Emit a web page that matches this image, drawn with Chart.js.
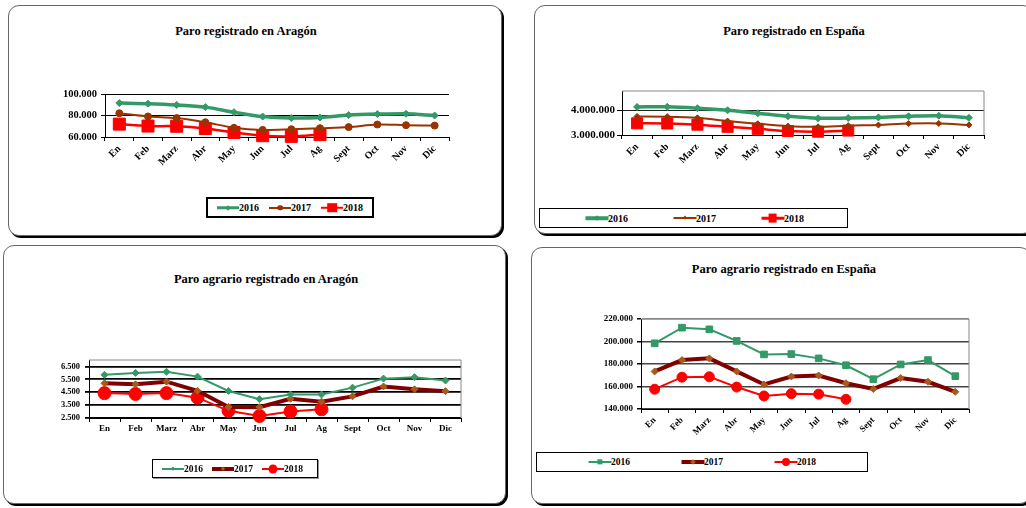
<!DOCTYPE html>
<html>
<head>
<meta charset="utf-8">
<script src="https://cdn.jsdelivr.net/npm/chart.js@4.4.0/dist/chart.umd.min.js"></script>
<style>
  body { margin: 0; width: 1026px; height: 508px; position: relative; overflow: hidden; background: #fff;
         font-family: 'Liberation Serif', 'Times New Roman', serif; }
  .frame { position: absolute; box-sizing: border-box; border: 1px solid #666; border-radius: 11px;
           box-shadow: 2px 2px 0 #000; background: #fff; }
  .title { position: absolute; width: 340px; text-align: center; font-weight: bold; font-size: 12.5px;
           line-height: 14px; color: #000; white-space: nowrap; }
  canvas { position: absolute; }
  .legend { position: absolute; box-sizing: border-box; border: 1px solid #000; background: #fff;
            display: flex; align-items: center; font-weight: bold; color: #000; }
  .item { display: flex; align-items: center; }
  .sw { position: relative; height: 14px; display: inline-block; }
  .sw span { position: absolute; left: 50%; top: 50%; display: block; }
</style>
</head>
<body>

<div class="frame" style="left:8px;top:5px;width:494px;height:231px"></div>
<div class="frame" style="left:534px;top:5px;width:500px;height:229px"></div>
<div class="frame" style="left:3px;top:245px;width:503px;height:259px"></div>
<div class="frame" style="left:531px;top:247px;width:500px;height:257px"></div>

<div class="title" id="t1">Paro registrado en Aragón</div>
<div class="title" id="t2">Paro registrado en España</div>
<div class="title" id="t3">Paro agrario registrado en Aragón</div>
<div class="title" id="t4">Paro agrario registrado en España</div>

<canvas id="c1"></canvas>
<canvas id="c2"></canvas>
<canvas id="c3"></canvas>
<canvas id="c4"></canvas>

<div class="legend" id="l1"></div>
<div class="legend" id="l2"></div>
<div class="legend" id="l3"></div>
<div class="legend" id="l4"></div>

<script>
const months = ['En', 'Feb', 'Marz', 'Abr', 'May', 'Jun', 'Jul', 'Ag', 'Sept', 'Oct', 'Nov', 'Dic'];
const years = ['2016', '2017', '2018'];

// Paro registrado en Aragón
const aragon2016 = [91600, 91000, 89800, 87800, 83100, 79000, 77700, 78100, 80400, 81300, 81600, 80000];
const aragon2017 = [82100, 79100, 77600, 73700, 68600, 66600, 67200, 68200, 69200, 71600, 71000, 70600];
const aragon2018 = [72000, 70200, 70000, 67900, 64200, 61200, 60600, 62300];
const aragonTicks = [60000, 80000, 100000];

// Paro registrado en España
const espana2016 = [4150000, 4153000, 4095000, 4011000, 3891000, 3767000, 3683000, 3697000, 3720000, 3765000, 3790000, 3703000];
const espana2017 = [3760000, 3751000, 3702000, 3573000, 3461000, 3363000, 3336000, 3382000, 3410000, 3467000, 3474000, 3413000];
const espana2018 = [3477000, 3470000, 3423000, 3336000, 3252000, 3162000, 3135000, 3182000];
const espanaTicks = [3000000, 4000000];

// Paro agrario registrado en Aragón
const agrAragon2016 = [5850, 6000, 6085, 5710, 4600, 3960, 4325, 4325, 4855, 5555, 5670, 5410];
const agrAragon2017 = [5190, 5115, 5320, 4610, 3355, 3340, 3990, 3770, 4180, 4945, 4725, 4585];
const agrAragon2018 = [4430, 4365, 4430, 4080, 3055, 2655, 3005, 3175];
const agrAragonTicks = [2500, 3500, 4500, 5500, 6500];

// Paro agrario registrado en España
const agrEspana2016 = [198400, 212300, 210800, 200500, 188500, 188800, 185000, 178900, 166500, 179600, 183500, 169200];
const agrEspana2017 = [173400, 183500, 185000, 173400, 161800, 168900, 169800, 162900, 157800, 167500, 164200, 155300];
const agrEspana2018 = [157600, 168300, 168600, 159500, 151600, 153600, 153200, 148600];
const agrEspanaTicks = [140000, 160000, 180000, 200000, 220000];

const GREEN = '#339966';
const BROWN = '#993300';
const MAROON = '#800000';
const RED = '#ff0000';
const RUST = '#a85a1c';
const FONT = "'Liberation Serif', 'Times New Roman', serif";

function fmt(v) {
    return String(v).replace(/\B(?=(\d{3})+(?!\d))/g, '.');
}

// gray frame round the plot area (top and right sides)
const chartAreaBorder = {
    id: 'chartAreaBorder',
    beforeDatasetsDraw(chart, args, opts) {
        if (!opts.color) return;
        const {ctx, chartArea: {left, top, right, bottom}} = chart;
        ctx.save();
        ctx.strokeStyle = opts.color;
        ctx.lineWidth = 1;
        ctx.beginPath();
        ctx.moveTo(left, top);
        ctx.lineTo(right, top);
        ctx.lineTo(right, bottom);
        ctx.stroke();
        ctx.restore();
    }
};

function makeChart(id, s) {
    const cv = document.getElementById(id);
    const padT = 12, padR = 14, xH = 50;
    const left = s.area.l - s.yW, top = s.area.t - padT;
    cv.width = s.area.r - left + padR;
    cv.height = s.area.b - top + xH;
    cv.style.left = left + 'px';
    cv.style.top = top + 'px';

    return new Chart(cv, {
        type: 'line',
        data: {
            labels: months,
            datasets: s.series.map(d => ({
                label: d.label,
                data: d.data,
                borderColor: d.color,
                backgroundColor: d.color,
                borderWidth: d.width,
                pointStyle: d.point,
                pointRadius: d.radius,
                pointHoverRadius: d.radius,
                pointBackgroundColor: d.pointColor || d.color,
                pointBorderColor: d.pointColor || d.color,
                pointBorderWidth: 1,
                tension: s.tension || 0,
                fill: false,
                clip: false
            }))
        },
        options: {
            responsive: false,
            animation: false,
            events: [],
            layout: {padding: {top: padT, right: padR, left: 0, bottom: 0}},
            plugins: {
                legend: {display: false},
                title: {display: false},
                tooltip: {enabled: false},
                chartAreaBorder: {color: s.boxColor}
            },
            scales: {
                x: {
                    offset: true,
                    grid: {offset: true, drawOnChartArea: false, drawTicks: true, tickLength: 4, tickColor: '#000'},
                    border: {color: '#000', width: 1},
                    ticks: {
                        color: '#000',
                        font: {family: FONT, weight: 'bold', size: s.xFont},
                        minRotation: s.rotate,
                        maxRotation: s.rotate,
                        autoSkip: false,
                        padding: s.xPad
                    },
                    afterFit: sc => { sc.height = xH; }
                },
                y: {
                    min: s.ticks[0],
                    max: s.max,
                    afterBuildTicks: sc => { sc.ticks = s.ticks.map(v => ({value: v})); },
                    afterFit: sc => { sc.width = s.yW; },
                    grid: {
                        color: c => (c.tick && c.tick.value === s.max && s.boxColor) ? s.boxColor : s.gridColor,
                        lineWidth: s.gridWidth,
                        tickLength: s.tickLen,
                        tickColor: '#000',
                        drawTicks: true
                    },
                    border: {color: '#000', width: 1},
                    ticks: {
                        color: '#000',
                        font: {family: FONT, weight: 'bold', size: s.yFont},
                        padding: s.yPad,
                        callback: v => fmt(v)
                    }
                }
            }
        },
        plugins: [chartAreaBorder]
    });
}

function placeTitle(id, cx, cy) {
    const el = document.getElementById(id);
    el.style.left = (cx - 170) + 'px';
    el.style.top = (cy - 7) + 'px';
}

function makeLegend(id, chart, s) {
    const el = document.getElementById(id);
    Object.assign(el.style, {
        left: s.l + 'px', top: s.t + 'px', width: s.w + 'px', height: s.h + 'px',
        borderWidth: s.border + 'px', paddingLeft: s.padL + 'px', gap: s.gap + 'px',
        fontSize: s.font + 'px', boxShadow: s.shadow || 'none'
    });
    chart.data.datasets.forEach(ds => {
        const item = document.createElement('div');
        item.className = 'item';
        const sw = document.createElement('span');
        sw.className = 'sw';
        sw.style.width = s.sw + 'px';
        const ln = document.createElement('span');
        ln.style.cssText = `width:${s.sw}px;height:${ds.borderWidth}px;background:${ds.borderColor};transform:translate(-50%,-50%)`;
        const mk = document.createElement('span');
        const r = ds.pointRadius * s.mark;
        let size = 1.414 * r, extra = '', rot = '';
        if (ds.pointStyle === 'circle') { size = 2 * r; extra = 'border-radius:50%;'; }
        if (ds.pointStyle === 'rectRot') { rot = ' rotate(45deg)'; }
        mk.style.cssText = `width:${size}px;height:${size}px;background:${ds.pointBackgroundColor};${extra}transform:translate(-50%,-50%)${rot}`;
        sw.appendChild(ln);
        sw.appendChild(mk);
        const tx = document.createElement('span');
        tx.textContent = ds.label;
        item.appendChild(sw);
        item.appendChild(tx);
        el.appendChild(item);
    });
}

const chart1 = makeChart('c1', {
    area: {l: 105, t: 94, r: 449, b: 137},
    yW: 50, max: 100000, ticks: aragonTicks,
    yFont: 10.5, yPad: 4, tickLen: 4, xFont: 10, xPad: 2, rotate: 45,
    gridColor: '#000', gridWidth: 1, boxColor: null, tension: 0.3,
    series: [
        {label: years[0], data: aragon2016, color: GREEN, width: 3.5, point: 'rectRot', radius: 3.5},
        {label: years[1], data: aragon2017, color: BROWN, width: 2, point: 'circle', radius: 3.5},
        {label: years[2], data: aragon2018, color: RED, width: 2.5, point: 'rect', radius: 8.5}
    ]
});

const chart2 = makeChart('c2', {
    area: {l: 622, t: 91, r: 984, b: 135},
    yW: 62, max: 4800000, ticks: espanaTicks,
    yFont: 11, yPad: 2, tickLen: 5, xFont: 10, xPad: 2, rotate: 45,
    gridColor: '#222', gridWidth: 1, boxColor: '#888', tension: 0.3,
    series: [
        {label: years[0], data: espana2016, color: GREEN, width: 3.5, point: 'rectRot', radius: 3.5},
        {label: years[1], data: espana2017, color: BROWN, width: 2, point: 'rectRot', radius: 3},
        {label: years[2], data: espana2018, color: RED, width: 2.5, point: 'rect', radius: 7.8}
    ]
});

const chart3 = makeChart('c3', {
    area: {l: 89, t: 360, r: 461, b: 418},
    yW: 45, max: 7000, ticks: agrAragonTicks,
    yFont: 8.5, yPad: 5, tickLen: 4, xFont: 9, xPad: 1, rotate: 0,
    gridColor: '#000', gridWidth: 1.8, boxColor: '#888',
    series: [
        {label: years[0], data: agrAragon2016, color: GREEN, width: 2, point: 'rectRot', radius: 3.5},
        {label: years[1], data: agrAragon2017, color: MAROON, width: 4, point: 'rectRot', radius: 3.5, pointColor: RUST},
        {label: years[2], data: agrAragon2018, color: RED, width: 2, point: 'circle', radius: 6.5}
    ]
});

const chart4 = makeChart('c4', {
    area: {l: 641, t: 319, r: 969, b: 409},
    yW: 45, max: 220000, ticks: agrEspanaTicks,
    yFont: 9, yPad: 4, tickLen: 4, xFont: 9, xPad: 2, rotate: 45,
    gridColor: '#444', gridWidth: 1.5, boxColor: '#888',
    series: [
        {label: years[0], data: agrEspana2016, color: GREEN, width: 2, point: 'rect', radius: 4.7},
        {label: years[1], data: agrEspana2017, color: MAROON, width: 4, point: 'rectRot', radius: 3.5, pointColor: RUST},
        {label: years[2], data: agrEspana2018, color: RED, width: 2, point: 'circle', radius: 5}
    ]
});

placeTitle('t1', 246, 31);
placeTitle('t2', 794, 31);
placeTitle('t3', 266, 279);
placeTitle('t4', 784, 269);

makeLegend('l1', chart1, {l: 206, t: 197, w: 168, h: 21, border: 2, padL: 9, gap: 10, sw: 22, font: 10, mark: 0.8});
makeLegend('l2', chart2, {l: 539, t: 208, w: 309, h: 20, border: 1, padL: 45, gap: 45, sw: 23, font: 10, mark: 0.8});
makeLegend('l3', chart3, {l: 152, t: 459, w: 166, h: 19, border: 1.5, padL: 9, gap: 9, sw: 22, font: 9.5, mark: 0.7, shadow: '1px 1px 0 #999'});
makeLegend('l4', chart4, {l: 536, t: 452, w: 332, h: 20, border: 1, padL: 51, gap: 51, sw: 23, font: 9.5, mark: 0.8});
</script>
</body>
</html>
